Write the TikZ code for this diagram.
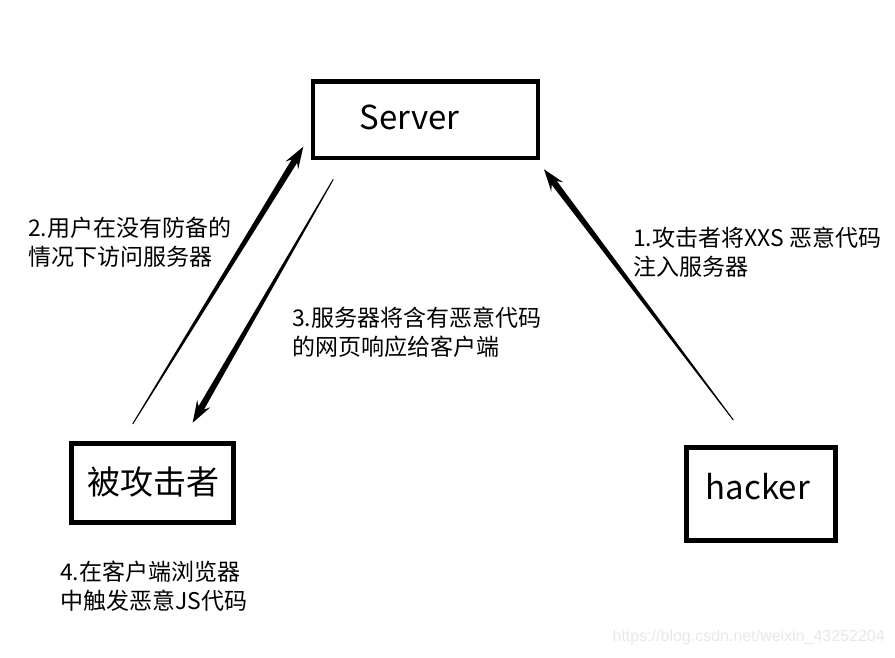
\documentclass[tikz,border=0pt]{standalone}
\usepackage{fontspec}
\setmainfont{Noto Sans CJK SC}
\newfontfamily\wmfont{Liberation Sans}
\usetikzlibrary{calc}
\newcommand{\taperarrow}[3]{%
  \coordinate (hb) at ($(#2)!22pt!(#1)$);
  \coordinate (hj) at ($(#2)!17pt!(#1)$);
  \fill ($(#1)!0.5pt!90:(#2)$) -- ($(hj)!#3!90:(#2)$) -- ($(hb)!7.5pt!90:(#2)$) -- (#2)
     -- ($(hb)!7.5pt!-90:(#2)$) -- ($(hj)!#3!-90:(#2)$) -- ($(#1)!0.5pt!-90:(#2)$) -- cycle;
}
\tikzset{
  box/.style={draw=black, line width=4.7pt, fill=none, inner sep=0pt},
  boxtext/.style={inner sep=0pt, font=\fontsize{33}{36}\selectfont},
  note/.style={inner sep=0pt, align=left, anchor=west, font=\fontsize{23}{28.5}\selectfont},
}
\begin{document}
\begin{tikzpicture}[x=1pt,y=-1pt]
\useasboundingbox[fill=white] (0,0) rectangle (895,658);
% boxes
\node[box, minimum width=225pt, minimum height=76.5pt] (server) at (425.5,119.75) {};
\node[boxtext] (servertext) at (409.5,117) {Server};
\node[box, minimum width=162pt, minimum height=79pt] (victim) at (152.7,483) {};
\node[boxtext] (victimtext) at (153,482) {被攻击者};
\node[box, minimum width=148.6pt, minimum height=93pt] (hacker) at (761,494.2) {};
\node[boxtext] (hackertext) at (758,487) {hacker};
% arrow end points
\coordinate (a2tail) at (132.7,424);
\coordinate (a2tip) at (303.3,146.7);
\coordinate (a3tail) at (333.3,179.3);
\coordinate (a3tip) at (192.7,422.7);
\coordinate (a1tail) at (733.3,420);
\coordinate (a1tip) at (544,169.3);
\taperarrow{a2tail}{a2tip}{3.2pt}
\taperarrow{a3tail}{a3tip}{3.2pt}
\taperarrow{a1tail}{a1tip}{3.2pt}
% labels
\node[note] (n2) at (28,242) {2.用户在没有防备的\\情况下访问服务器};
\node[note] (n1) at (633,252) {1.攻击者将XXS 恶意代码\\注入服务器};
\node[note] (n3) at (292,332) {3.服务器将含有恶意代码\\的网页响应给客户端};
\node[note] (n4) at (60,586) {4.在客户端浏览器\\中触发恶意JS代码};
\node[inner sep=0pt, anchor=east, text=black!9, font=\wmfont\fontsize{16}{18}\selectfont] (wm) at (885,637) {https://blog.csdn.net/weixin\_43252204};
\end{tikzpicture}
\end{document}
